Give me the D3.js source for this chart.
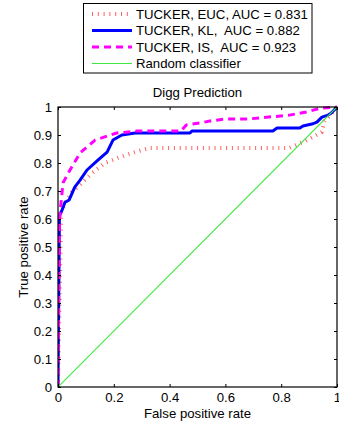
<!DOCTYPE html>
<html>
<head>
<meta charset="utf-8">
<script src="https://cdn.jsdelivr.net/npm/d3@7/dist/d3.min.js"></script>
<style>
  html, body { margin: 0; padding: 0; background: #fff; }
  svg { display: block; font-family: "Liberation Sans", Arial, Helvetica, sans-serif; }
</style>
</head>
<body>
<svg id="chart" width="339" height="428"></svg>
<script>
// ROC curves for the Digg link prediction experiment
const fprEUC = [0, 0.011, 0.011, 0.025, 0.05, 0.086, 0.122, 0.168, 0.215, 0.265, 0.33, 0.6, 0.83, 0.878, 0.914, 0.946, 0.955, 0.975, 1];
const tprEUC = [0, 0.6, 0.62, 0.657, 0.696, 0.729, 0.764, 0.8, 0.818, 0.836, 0.854, 0.854, 0.854, 0.875, 0.893, 0.911, 0.95, 0.97, 1];

const fprKL = [0, 0.005, 0.008, 0.014, 0.025, 0.04, 0.06, 0.079, 0.104, 0.143, 0.176, 0.197, 0.229, 0.276, 0.473, 0.48, 0.77, 0.785, 0.867, 0.878, 0.91, 0.928, 0.946, 0.968, 0.98, 1];
const tprKL = [0, 0.6, 0.62, 0.63, 0.66, 0.668, 0.714, 0.739, 0.775, 0.81, 0.839, 0.882, 0.9, 0.907, 0.907, 0.914, 0.914, 0.925, 0.925, 0.932, 0.939, 0.946, 0.964, 0.971, 0.979, 1];

const fprIS = [0, 0.005, 0.01, 0.018, 0.043, 0.079, 0.133, 0.21, 0.283, 0.44, 0.46, 0.51, 0.545, 0.6, 0.68, 0.83, 0.89, 0.94, 1];
const tprIS = [0, 0.6, 0.65, 0.729, 0.775, 0.836, 0.882, 0.907, 0.914, 0.914, 0.936, 0.943, 0.95, 0.957, 0.957, 0.971, 0.982, 0.996, 1];

const fprRandom = [0, 1];
const tprRandom = [0, 1];

const seriesLabels = ["TUCKER, EUC, AUC = 0.831", "TUCKER, KL,  AUC = 0.882", "TUCKER, IS,  AUC = 0.923", "Random classifier"];
const tickValues = [0, 0.1, 0.2, 0.3, 0.4, 0.5, 0.6, 0.7, 0.8, 0.9, 1];
const xTickValues = [0, 0.2, 0.4, 0.6, 0.8, 1];

const FS = 13.2;
const svg = d3.select("#chart");
const plot = { left: 58, right: 337, top: 107, bottom: 387 };

const x = d3.scaleLinear().domain([0, 1]).range([plot.left, plot.right]);
const y = d3.scaleLinear().domain([0, 1]).range([plot.bottom, plot.top]);

const styles = [
  { stroke: "#ff6161", width: 4, dash: "1 4.8" },
  { stroke: "#0000ff", width: 3, dash: null },
  { stroke: "#ff00ff", width: 3, dash: "7 5" },
  { stroke: "#3fe83f", width: 1.1, dash: null }
];

const series = [
  { fpr: fprEUC, tpr: tprEUC },
  { fpr: fprKL, tpr: tprKL },
  { fpr: fprIS, tpr: tprIS },
  { fpr: fprRandom, tpr: tprRandom }
];

// Clip curves to the axes box
svg.append("defs").append("clipPath").attr("id", "clip")
  .append("rect")
  .attr("x", plot.left).attr("y", plot.top - 2)
  .attr("width", plot.right - plot.left).attr("height", plot.bottom - plot.top + 2);

const line = d3.line().x(d => x(d[0])).y(d => y(d[1]));
const curves = svg.append("g").attr("clip-path", "url(#clip)");
series.forEach((s, i) => {
  const pts = s.fpr.map((v, j) => [v, s.tpr[j]]);
  const p = curves.append("path")
    .datum(pts)
    .attr("d", line)
    .attr("fill", "none")
    .attr("stroke", styles[i].stroke)
    .attr("stroke-width", styles[i].width)
    .attr("stroke-linejoin", "round");
  if (styles[i].dash) p.attr("stroke-dasharray", styles[i].dash);
});

// Axes with inward ticks, mirrored on top and right
const xAxis = d3.axisBottom(x).tickValues(xTickValues).tickFormat(d3.format("~g"))
  .tickSizeInner(-3).tickSizeOuter(0).tickPadding(6);
const yAxis = d3.axisLeft(y).tickValues(tickValues).tickFormat(d3.format("~g"))
  .tickSizeInner(-3).tickSizeOuter(0).tickPadding(6);

const gx = svg.append("g").attr("transform", `translate(0,${plot.bottom})`).call(xAxis);
const gy = svg.append("g").attr("transform", `translate(${plot.left},0)`).call(yAxis);
const gxTop = svg.append("g").attr("transform", `translate(0,${plot.top})`)
  .call(d3.axisTop(x).tickValues(xTickValues).tickFormat("").tickSizeInner(-3).tickSizeOuter(0));
const gyRight = svg.append("g").attr("transform", `translate(${plot.right},0)`)
  .call(d3.axisRight(y).tickValues(tickValues).tickFormat("").tickSizeInner(-3).tickSizeOuter(0));

[gx, gy, gxTop, gyRight].forEach(g => {
  g.select(".domain").remove();
  g.selectAll(".tick line").attr("stroke", "#000").attr("stroke-width", 1);
  g.selectAll("text").attr("font-size", FS).attr("fill", "#000")
    .attr("font-family", "'Liberation Sans', Arial, sans-serif");
});

// Axes box
svg.append("rect")
  .attr("x", plot.left).attr("y", plot.top)
  .attr("width", plot.right - plot.left).attr("height", plot.bottom - plot.top)
  .attr("fill", "none").attr("stroke", "#000").attr("stroke-width", 1.2);

// Title and axis labels
svg.append("text")
  .attr("x", (plot.left + plot.right) / 2).attr("y", 97)
  .attr("text-anchor", "middle").attr("font-size", FS)
  .text("Digg Prediction");

svg.append("text")
  .attr("x", (plot.left + plot.right) / 2).attr("y", 418)
  .attr("text-anchor", "middle").attr("font-size", FS)
  .text("False positive rate");

svg.append("text")
  .attr("transform", `translate(28,${(plot.top + plot.bottom) / 2}) rotate(-90)`)
  .attr("text-anchor", "middle").attr("font-size", FS)
  .text("True positive rate");

// Legend
const legend = svg.append("g");
legend.append("rect")
  .attr("x", 83.5).attr("y", 3.5).attr("width", 228.5).attr("height", 69.5)
  .attr("fill", "#fff").attr("stroke", "#000").attr("stroke-width", 1);

const rowY = [14, 30.5, 47, 63.5];
seriesLabels.forEach((label, i) => {
  const ly = rowY[i];
  const l = legend.append("line")
    .attr("x1", 92).attr("x2", 132).attr("y1", ly).attr("y2", ly)
    .attr("stroke", styles[i].stroke).attr("stroke-width", styles[i].width);
  if (styles[i].dash) l.attr("stroke-dasharray", styles[i].dash);
  legend.append("text")
    .attr("x", 136).attr("y", ly + 4.6)
    .attr("font-size", FS)
    .attr("xml:space", "preserve")
    .style("white-space", "pre")
    .text(label);
});
</script>
</body>
</html>
